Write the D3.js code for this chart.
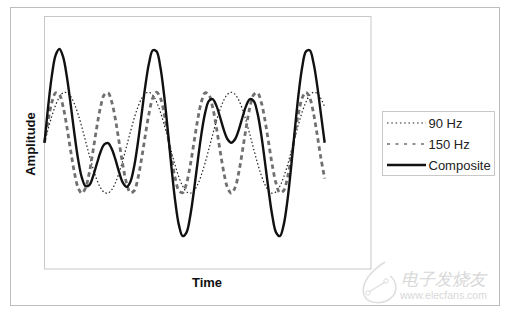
<!DOCTYPE html>
<head>
<meta charset="utf-8">
<script src="https://d3js.org/d3.v7.min.js"></script>
<style>
  body { margin: 0; background: #fff; }
  text { font-family: "Liberation Sans", Arial, sans-serif; }
</style>
</head>
<body>
<div id="datavis"></div>

<script type="text/javascript">
    // sample times (ms)
    var time = [0, 0.5, 1, 1.5, 2, 2.5, 3, 3.5, 4, 4.5, 5, 5.5, 6, 6.5, 7, 7.5, 8, 8.5, 9, 9.5,
                10, 10.5, 11, 11.5, 12, 12.5, 13, 13.5, 14, 14.5, 15, 15.5, 16, 16.5, 17, 17.5, 18, 18.5, 19, 19.5,
                20, 20.5, 21, 21.5, 22, 22.5, 23, 23.5, 24, 24.5, 25, 25.5, 26, 26.5, 27, 27.5, 28, 28.5, 29, 29.5,
                30, 30.5, 31, 31.5, 32, 32.5, 33, 33.5, 34, 34.5, 35, 35.5, 36, 36.5, 37, 37.5];

    // 90 Hz signal
    var hz90 = [0, 0.279, 0.536, 0.750, 0.905, 0.988, 0.992, 0.918, 0.771, 0.562,
                0.309, 0.031, -0.249, -0.509, -0.729, -0.891, -0.982, -0.996, -0.930, -0.790,
                -0.588, -0.339, -0.063, 0.218, 0.482, 0.707, 0.876, 0.976, 0.998, 0.941,
                0.809, 0.613, 0.368, 0.094, -0.187, -0.454, -0.685, -0.861, -0.969, -1.000,
                -0.951, -0.827, -0.637, -0.397, -0.125, 0.156, 0.426, 0.661, 0.844, 0.960,
                1.000, 0.960, 0.844, 0.661, 0.426, 0.156, -0.125, -0.397, -0.637, -0.827,
                -0.951, -1.000, -0.969, -0.861, -0.685, -0.454, -0.187, 0.094, 0.368, 0.613,
                0.809, 0.941, 0.998, 0.976, 0.876, 0.707];

    // 150 Hz signal
    var hz150 = [0, 0.454, 0.809, 0.988, 0.951, 0.707, 0.309, -0.156, -0.588, -0.891,
                 -1.000, -0.891, -0.588, -0.156, 0.309, 0.707, 0.951, 0.988, 0.809, 0.454,
                 0, -0.454, -0.809, -0.988, -0.951, -0.707, -0.309, 0.156, 0.588, 0.891,
                 1.000, 0.891, 0.588, 0.156, -0.309, -0.707, -0.951, -0.988, -0.809, -0.454,
                 0, 0.454, 0.809, 0.988, 0.951, 0.707, 0.309, -0.156, -0.588, -0.891,
                 -1.000, -0.891, -0.588, -0.156, 0.309, 0.707, 0.951, 0.988, 0.809, 0.454,
                 0, -0.454, -0.809, -0.988, -0.951, -0.707, -0.309, 0.156, 0.588, 0.891,
                 1.000, 0.891, 0.588, 0.156, -0.309, -0.707];

    // composite (90 Hz + 150 Hz)
    var composite = [0, 0.733, 1.345, 1.738, 1.856, 1.695, 1.301, 0.762, 0.183, -0.329,
                     -0.691, -0.860, -0.837, -0.665, -0.420, -0.184, -0.031, -0.008, -0.121, -0.336,
                     -0.588, -0.793, -0.872, -0.770, -0.469, 0, 0.567, 1.132, 1.586, 1.832,
                     1.809, 1.504, 0.956, 0.250, -0.496, -1.161, -1.636, -1.849, -1.778, -1.454,
                     -0.951, -0.373, 0.172, 0.591, 0.826, 0.863, 0.735, 0.505, 0.256, 0.069,
                     0, 0.069, 0.256, 0.505, 0.735, 0.863, 0.826, 0.591, 0.172, -0.373,
                     -0.951, -1.454, -1.778, -1.849, -1.636, -1.161, -0.496, 0.250, 0.956, 1.504,
                     1.809, 1.832, 1.586, 1.132, 0.567, 0];

    var seriesNames = ["90 Hz", "150 Hz", "Composite"];
    var xLabel = "Time", yLabel = "Amplitude";

    var width = 506, height = 312;
    var plot = {left: 44.5, top: 16.5, right: 371, bottom: 269};

    var svg = d3.select("#datavis")
                .append("svg")
                .attr("width", width)
                .attr("height", height);

    // outer chart border
    svg.append("rect")
       .attr("x", 10.5).attr("y", 7.5)
       .attr("width", 489).attr("height", 298)
       .attr("fill", "#fff")
       .attr("stroke", "#bdbdbd");

    // plot area border
    svg.append("rect")
       .attr("x", plot.left).attr("y", plot.top)
       .attr("width", plot.right - plot.left).attr("height", plot.bottom - plot.top)
       .attr("fill", "none")
       .attr("stroke", "#c8c8c8");

    var x = d3.scaleLinear()
              .domain([0, 43.7])
              .range([plot.left, plot.right]);

    var y = d3.scaleLinear()
              .domain([-2.5, 2.5])
              .range([plot.bottom, plot.top]);

    // Excel style smoothed lines
    function lineFor(values) {
        return d3.line()
                 .curve(d3.curveCatmullRom)
                 .x(function(d, i) { return x(time[i]) })
                 .y(function(d) { return y(d) })(values);
    }

    var styles = [
        {data: hz90, stroke: "#222", width: 1.2, dash: "1.5,2.2"},
        {data: hz150, stroke: "#707070", width: 2.8, dash: "4.5,3.5"},
        {data: composite, stroke: "#111", width: 2.4, dash: null}
    ];

    styles.forEach(function(s) {
        svg.append("path")
           .attr("fill", "none")
           .attr("stroke", s.stroke)
           .attr("stroke-width", s.width)
           .attr("stroke-dasharray", s.dash)
           .attr("stroke-linejoin", "round")
           .attr("d", lineFor(s.data));
    });

    // axis titles
    svg.append("text")
       .attr("x", 207).attr("y", 287)
       .attr("text-anchor", "middle")
       .attr("font-size", 13).attr("font-weight", "bold")
       .attr("fill", "#111")
       .text(xLabel);

    svg.append("text")
       .attr("transform", "translate(35,144) rotate(-90)")
       .attr("text-anchor", "middle")
       .attr("font-size", 13).attr("font-weight", "bold")
       .attr("fill", "#111")
       .text(yLabel);

    // legend
    var legend = svg.append("g");
    legend.append("rect")
          .attr("x", 382.5).attr("y", 111.5)
          .attr("width", 112).attr("height", 64)
          .attr("fill", "#fff")
          .attr("stroke", "#c8c8c8");

    var legendStyles = [
        {stroke: "#222", width: 1.2, dash: "1.5,2.8"},
        {stroke: "#6e6e6e", width: 1.6, dash: "3,5.5"},
        {stroke: "#111", width: 2.4, dash: null}
    ];

    seriesNames.forEach(function(name, i) {
        var ly = 123 + i * 21;
        legend.append("line")
              .attr("x1", 387).attr("x2", 426)
              .attr("y1", ly).attr("y2", ly)
              .attr("stroke", legendStyles[i].stroke)
              .attr("stroke-width", legendStyles[i].width)
              .attr("stroke-dasharray", legendStyles[i].dash);
        legend.append("text")
              .attr("x", 428.5).attr("y", ly + 4.5)
              .attr("font-size", 13)
              .attr("fill", "#222")
              .text(name);
    });

    // watermark
    var wm = svg.append("g").attr("opacity", 0.6);
    wm.append("path")
      .attr("d", "M385,262 C372,270 360,283 364,295 C368,305 385,305 393,296 C398,290 396,280 390,276")
      .attr("fill", "none").attr("stroke", "#c8c8c8").attr("stroke-width", 1.5);
    wm.append("line")
      .attr("x1", 369).attr("y1", 292).attr("x2", 385).attr("y2", 282)
      .attr("stroke", "#c8c8c8").attr("stroke-width", 1.2);
    wm.append("circle").attr("cx", 368).attr("cy", 293).attr("r", 2.2)
      .attr("fill", "none").attr("stroke", "#c8c8c8");
    wm.append("circle").attr("cx", 386).attr("cy", 281).attr("r", 2.2)
      .attr("fill", "none").attr("stroke", "#c8c8c8");
    wm.append("text")
      .attr("x", 401).attr("y", 285)
      .attr("font-family", "Noto Sans CJK SC")
      .attr("font-size", 17).attr("font-style", "italic")
      .attr("fill", "#bdbdbd")
      .text("电子发烧友");
    wm.append("text")
      .attr("x", 400).attr("y", 299)
      .attr("font-size", 10.5)
      .attr("fill", "#c0c0c0")
      .text("www.elecfans.com");
</script>
</body>
